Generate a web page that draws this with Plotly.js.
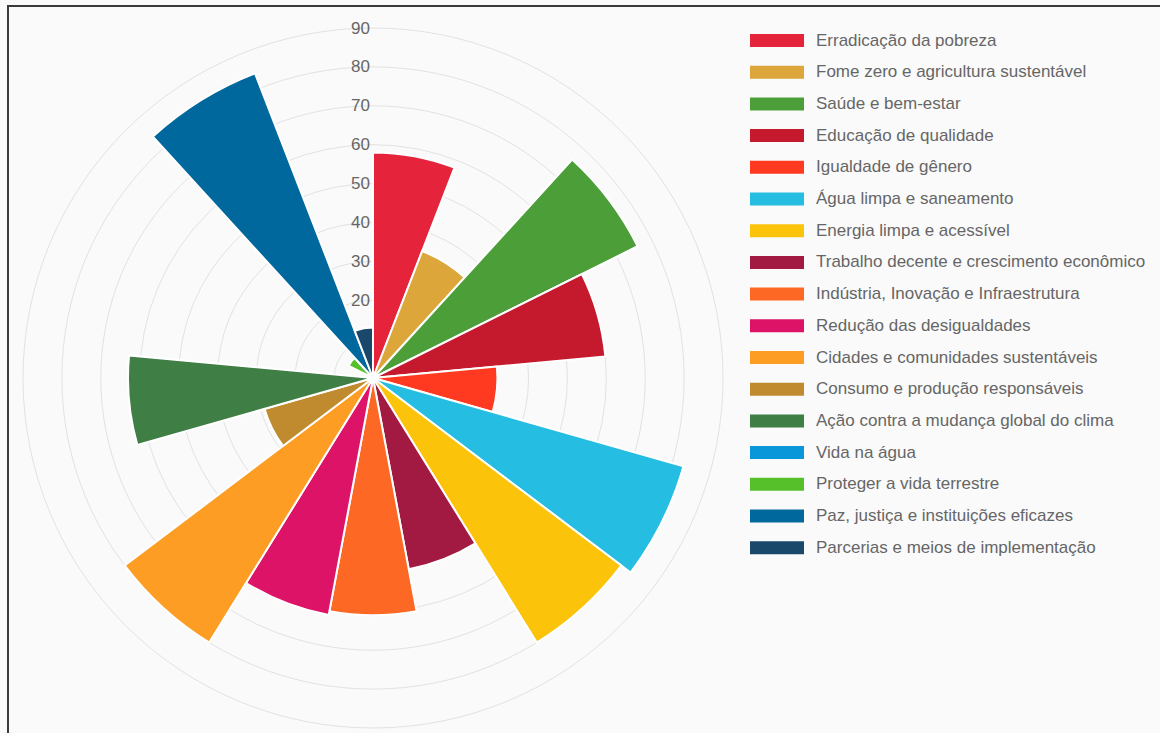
<!DOCTYPE html>
<html>
<head>
<meta charset="utf-8">
<script src="https://cdn.plot.ly/plotly-3.0.1.min.js"></script>
<style>
html,body{margin:0;padding:0;background:#fafafa;}
#chart{position:absolute;left:0;top:0;width:1160px;height:733px;}
#bt{position:absolute;left:7px;top:5px;width:1153px;height:0;border-top:2px solid #3a3a3a;pointer-events:none;}
#bl{position:absolute;left:7px;top:5px;width:0;height:728px;border-left:2px solid #3a3a3a;pointer-events:none;}
</style>
</head>
<body>
<div id="chart"></div>
<div id="bt"></div>
<div id="bl"></div>
<script>
const categories = [
  "Erradicação da pobreza",
  "Fome zero e agricultura sustentável",
  "Saúde e bem-estar",
  "Educação de qualidade",
  "Igualdade de gênero",
  "Água limpa e saneamento",
  "Energia limpa e acessível",
  "Trabalho decente e crescimento econômico",
  "Indústria, Inovação e Infraestrutura",
  "Redução das desigualdades",
  "Cidades e comunidades sustentáveis",
  "Consumo e produção responsáveis",
  "Ação contra a mudança global do clima",
  "Vida na água",
  "Proteger a vida terrestre",
  "Paz, justiça e instituições eficazes",
  "Parcerias e meios de implementação"
];
const values = [58, 35, 76, 60, 32, 83, 80, 50, 61, 62, 80, 29, 63, 0, 7, 84, 13];
const colors = [
  "#E5243B", "#DDA63A", "#4C9F38", "#C5192D", "#FF3A21", "#26BDE2",
  "#FCC30B", "#A21942", "#FD6925", "#DD1367", "#FD9D24", "#BF8B2E",
  "#3F7E44", "#0A97D9", "#56C02B", "#00689D", "#19486A"
];
const radialTicks = [10, 20, 30, 40, 50, 60, 70, 80, 90];

const W = 1160, H = 733;
const n = categories.length;

const trace = {
  type: 'barpolar',
  theta: categories,
  r: values,
  marker: { color: colors, line: { color: '#ffffff', width: 2 } },
  hoverinfo: 'theta+r',
  showlegend: false
};

const shapes = [];
const annotations = [];
const legTop = 40.5, legStep = 31.7;
for (let i = 0; i < n; i++) {
  const yc = legTop + i * legStep;
  shapes.push({
    type: 'rect', xref: 'paper', yref: 'paper',
    x0: 750 / W, x1: 804 / W,
    y0: 1 - (yc + 6.5) / H, y1: 1 - (yc - 6.5) / H,
    fillcolor: colors[i], line: { width: 0 }
  });
  annotations.push({
    xref: 'paper', yref: 'paper',
    x: 814 / W, y: 1 - (yc - 0.5) / H,
    xanchor: 'left', yanchor: 'middle',
    text: categories[i], showarrow: false,
    font: { family: 'Liberation Sans, Arial, sans-serif', size: 17, color: '#666666' }
  });
}

const layout = {
  width: W, height: H,
  margin: { l: 0, r: 0, t: 0, b: 0 },
  paper_bgcolor: '#fafafa',
  plot_bgcolor: '#fafafa',
  showlegend: false,
  font: { family: 'Liberation Sans, Arial, sans-serif', color: '#666666' },
  polar: {
    domain: { x: [23 / W, 723 / W], y: [5 / H, 705 / H] },
    bgcolor: 'rgba(0,0,0,0)',
    hole: 0,
    bargap: 0,
    radialaxis: {
      range: [0, 90],
      tickvals: radialTicks,
      ticktext: radialTicks.map(String),
      showline: false,
      ticks: '',
      angle: 90,
      side: 'counterclockwise',
      tickangle: 90,
      ticklabelstandoff: -12,
      layer: 'below traces',
      gridcolor: '#e2e2e2',
      gridwidth: 1,
      tickfont: { size: 17, color: '#666666', family: 'Liberation Sans, Arial, sans-serif' }
    },
    angularaxis: {
      type: 'category',
      direction: 'clockwise',
      rotation: 90 - 180 / n,
      showticklabels: false,
      ticks: '',
      showgrid: false,
      showline: true,
      linecolor: '#e2e2e2',
      linewidth: 1,
      layer: 'below traces'
    }
  },
  shapes: shapes,
  annotations: annotations
};

Plotly.newPlot('chart', [trace], layout, { displayModeBar: false, staticPlot: true });
</script>
</body>
</html>
